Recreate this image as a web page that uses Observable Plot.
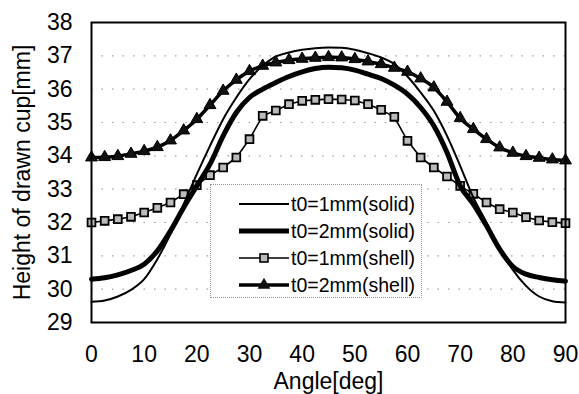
<!DOCTYPE html>
<html><head><meta charset="utf-8">
<script src="https://cdn.jsdelivr.net/npm/d3@7"></script>
<script src="https://cdn.jsdelivr.net/npm/@observablehq/plot@0.6"></script>
<style>
html,body{margin:0;padding:0;background:#fff;}
#wrap{position:relative;width:579px;height:394px;font-family:"Liberation Sans",Arial,sans-serif;}
#legend{position:absolute;left:210px;top:184px;width:212px;height:114px;border:1px dotted #999;background:#fff;box-sizing:border-box;}
.row{position:absolute;left:0;height:26px;display:flex;align-items:center;font-size:19.5px;color:#000;white-space:nowrap;}
.row svg{display:block;}
</style>
</head><body><div id="wrap"><div id="legend"></div></div>
<script>
const angles = [0,2.5,5,7.5,10,12.5,15,17.5,20,22.5,25,27.5,30,32.5,35,37.5,40,42.5,45,47.5,50,52.5,55,57.5,60,62.5,65,67.5,70,72.5,75,77.5,80,82.5,85,87.5,90];
const solid1 = [29.62,29.66,29.78,29.98,30.3,30.9,31.65,32.55,33.45,34.3,35.1,35.75,36.3,36.7,36.98,37.1,37.18,37.23,37.25,37.24,37.18,37.08,36.95,36.75,36.38,35.9,35.35,34.6,33.7,32.75,32.0,31.22,30.58,30.1,29.78,29.64,29.6];
const solid2 = [30.3,30.34,30.43,30.56,30.75,31.15,31.75,32.45,33.1,33.75,34.6,35.3,35.75,36.0,36.2,36.38,36.52,36.62,36.66,36.64,36.57,36.45,36.32,36.12,35.85,35.45,34.9,34.1,33.1,32.55,31.9,31.2,30.68,30.45,30.35,30.28,30.24];
const shell1 = [32.0,32.05,32.1,32.17,32.3,32.44,32.6,32.85,33.12,33.42,33.65,33.95,34.5,35.2,35.36,35.55,35.65,35.68,35.7,35.69,35.66,35.55,35.38,35.17,34.45,33.95,33.65,33.38,33.1,32.86,32.6,32.4,32.3,32.16,32.06,32.01,31.98];
const shell2 = [33.95,33.96,33.99,34.06,34.14,34.26,34.46,34.76,35.1,35.52,35.95,36.28,36.54,36.7,36.8,36.87,36.91,36.94,36.96,36.95,36.9,36.83,36.75,36.64,36.52,36.32,36.05,35.62,35.13,34.8,34.5,34.25,34.09,33.99,33.94,33.89,33.86];
const xTicks = [0,10,20,30,40,50,60,70,80,90];
const yTicks = [29,30,31,32,33,34,35,36,37,38];
const seriesNames = ["t0=1mm(solid)","t0=2mm(solid)","t0=1mm(shell)","t0=2mm(shell)"];
const xLabel = "Angle[deg]";
const yLabel = "Height of drawn cup[mm]";

const mk = vals => angles.map((a,i)=>({a, v: vals[i]}));
const d1 = mk(solid1), d2 = mk(solid2), d3s = mk(shell1), d4 = mk(shell2);

const chart = Plot.plot({
  width: 579, height: 394,
  marginLeft: 91, marginRight: 14, marginTop: 22, marginBottom: 72,
  style: {fontFamily: "Liberation Sans, Arial, sans-serif", fontSize: "23px", color: "#000", background: "#fff", overflow: "visible"},
  x: {domain: [0, 90]},
  y: {domain: [29, 38]},
  marks: [
    Plot.ruleY(yTicks.slice(1,-1), {stroke: "#777", strokeOpacity: 0.7, strokeDasharray: "1.5,9", strokeWidth: 1.2}),
    Plot.axisX(xTicks, {tickSize: 0, tickPadding: 23, label: null, fontSize: 23}),
    Plot.axisY(yTicks, {tickSize: 0, tickPadding: 19, label: null, fontSize: 23}),
    Plot.line(d4, {x: "a", y: "v", stroke: "#000", strokeWidth: 3.5, curve: "monotone-x"}),
    Plot.dot(d4, {x: "a", y: "v", symbol: "triangle", r: 4.4, fill: "#111", stroke: "#000", strokeWidth: 1}),
    Plot.line(d3s, {x: "a", y: "v", stroke: "#000", strokeWidth: 1.6}),
    Plot.dot(d3s, {x: "a", y: "v", symbol: "square", r: 4.4, fill: "#bbb", stroke: "#000", strokeWidth: 1.8}),
    Plot.line(d2, {x: "a", y: "v", stroke: "#000", strokeWidth: 5, curve: "monotone-x"}),
    Plot.line(d1, {x: "a", y: "v", stroke: "#000", strokeWidth: 2, curve: "monotone-x"}),
    Plot.frame({stroke: "#000", strokeWidth: 2}),
    Plot.text([xLabel], {frameAnchor: "bottom", dy: 66, fontSize: 23}),
    Plot.text([yLabel], {frameAnchor: "left", dx: -69, rotate: -90, textAnchor: "middle", fontSize: 23})
  ]
});
document.getElementById("wrap").prepend(chart);

// legend
const legend = d3.select("#legend");
const rowTops = [6, 33, 60, 87];
seriesNames.forEach((name, i) => {
  const row = legend.append("div").attr("class", "row").style("top", rowTops[i] + "px").style("left", "26px");
  const svg = row.append("svg").attr("width", 54).attr("height", 26);
  const sw = [2, 5, 1.6, 3.5][i];
  svg.append("line").attr("x1", 2).attr("x2", 52).attr("y1", 13).attr("y2", 13).attr("stroke", "#000").attr("stroke-width", sw);
  if (i === 2) svg.append("rect").attr("x", 23).attr("y", 9).attr("width", 8).attr("height", 8).attr("fill", "#bbb").attr("stroke", "#000").attr("stroke-width", 1.6);
  if (i === 3) svg.append("path").attr("d", d3.symbol(d3.symbolTriangle, 70)()).attr("transform", "translate(27,13)").attr("fill", "#111");
  row.append("span").text(name);
});
</script>
</body></html>
